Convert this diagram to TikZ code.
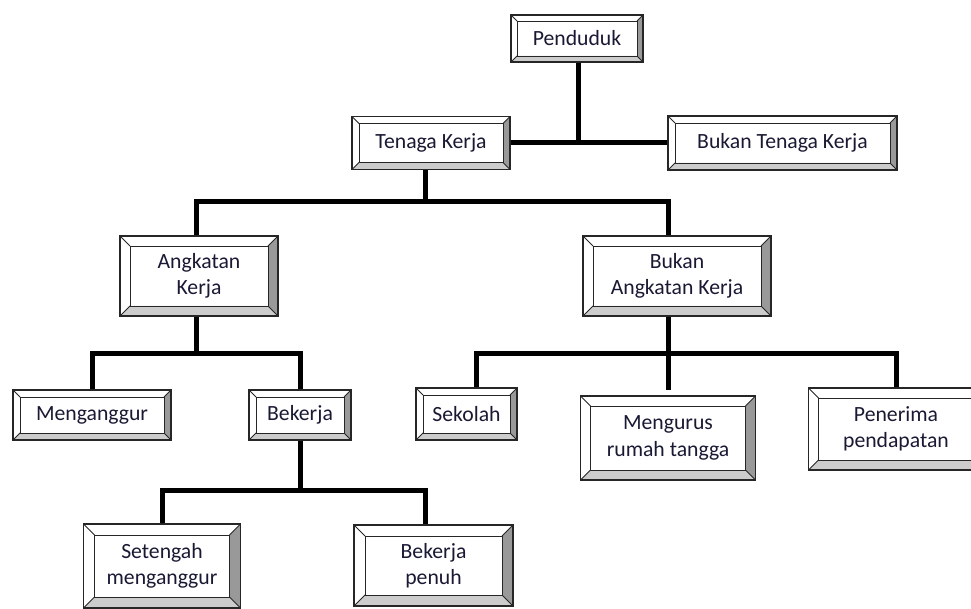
\documentclass[tikz,border=0pt]{standalone}
\usepackage{fontspec}
\setmainfont{Carlito}
\usetikzlibrary{calc}
\definecolor{qqqqtt}{rgb}{0.1,0.1,0.2}
\definecolor{zzzzzz}{rgb}{0.6,0.6,0.6}
\definecolor{cccccc}{rgb}{0.8,0.8,0.8}
\newcommand{\boxfont}{\fontsize{21.7}{26.5}\selectfont}
\tikzset{
  bevelbox/.style={draw=black!85,line width=1.2pt,fill=white,inner sep=0pt,align=center,text=qqqqtt,font=\boxfont,
    path picture={
      \coordinate (bsw) at (path picture bounding box.south west);
      \coordinate (bse) at (path picture bounding box.south east);
      \coordinate (bne) at (path picture bounding box.north east);
      \coordinate (bnw) at (path picture bounding box.north west);
      \fill[zzzzzz] (bne) -- (bse) -- ($(bse)+(-#1,#1)$) -- ($(bne)+(-#1,-#1)$) -- cycle;
      \fill[cccccc] (bsw) -- (bse) -- ($(bse)+(-#1,#1)$) -- ($(bsw)+(#1,#1)$) -- cycle;
      \draw[line width=0.8pt] ($(bsw)+(#1,#1)$) rectangle ($(bne)+(-#1,-#1)$);
      \draw[line width=0.8pt] (bsw) -- ++(#1,#1) (bse) -- ++(-#1,#1) (bne) -- ++(-#1,-#1) (bnw) -- ++(#1,-#1);
    }},
  bevelbox/.default=7pt,
  trunk/.style={line width=5pt,line join=miter,line cap=butt}
}
\begin{document}
\begin{tikzpicture}[x=1pt,y=1pt]
\useasboundingbox (0,0) rectangle (971,608);
\clip (0,0) rectangle (971,608);
% boxes
\node[bevelbox=6pt,minimum width=132pt,minimum height=47pt] (pend) at (577,569.5) {Penduduk};
\node[bevelbox,minimum width=158pt,minimum height=53pt] (tk) at (431,465) {Tenaga Kerja};
\node[bevelbox,minimum width=229pt,minimum height=54pt] (btk) at (782.5,465) {Bukan Tenaga Kerja};
\node[bevelbox=10pt,minimum width=158pt,minimum height=80pt] (ak) at (199,332) {Angkatan\\Kerja};
\node[bevelbox=10pt,minimum width=188pt,minimum height=80pt] (bak) at (677,332) {Bukan\\Angkatan Kerja};
\node[bevelbox,minimum width=158pt,minimum height=50pt] (meng) at (92,193) {Menganggur};
\node[bevelbox,minimum width=102pt,minimum height=50pt] (bek) at (300,193) {Bekerja};
\node[bevelbox,minimum width=101pt,minimum height=52pt] (sek) at (466.5,194) {Sekolah};
\node[bevelbox=10pt,minimum width=175pt,minimum height=84pt] (mur) at (668,170) {Mengurus\\rumah tangga};
\node[bevelbox=10pt,minimum width=175pt,minimum height=82pt] (pen) at (896,179) {Penerima\\pendapatan};
\node[bevelbox=11pt,minimum width=157pt,minimum height=84pt] (set) at (162,42) {Setengah\\menganggur};
\node[bevelbox=11pt,minimum width=159pt,minimum height=81pt] (bpen) at (433.5,42.5) {Bekerja\\penuh};
% connectors
\coordinate (j0) at (578,465);
\draw[trunk] (pend.south -| j0) -- (j0);
\draw[trunk] (tk.east) -- (btk.west);
\coordinate (j1) at (425,406);
\draw[trunk] (tk.south -| j1) -- (j1);
\draw[trunk] ([xshift=-3pt]ak.north) |- (j1) -| ([xshift=-9pt]bak.north);
\coordinate (j2) at (196,254);
\draw[trunk] ([xshift=-3pt]ak.south) -- (j2);
\draw[trunk] (meng.north) |- (j2) -| (bek.north);
\coordinate (j3) at (668,254);
\draw[trunk] ([xshift=-9pt]bak.south) -- (j3);
\draw[trunk] ([xshift=9.5pt]sek.north) |- (j3) -| (pen.north);
\draw[trunk] (j3) -- ([yshift=5pt]mur.north);
\coordinate (j4) at (300,118);
\draw[trunk] (bek.south) -- (j4);
\draw[trunk] (set.north) |- (j4) -| ([xshift=-8.5pt]bpen.north);
\end{tikzpicture}
\end{document}
